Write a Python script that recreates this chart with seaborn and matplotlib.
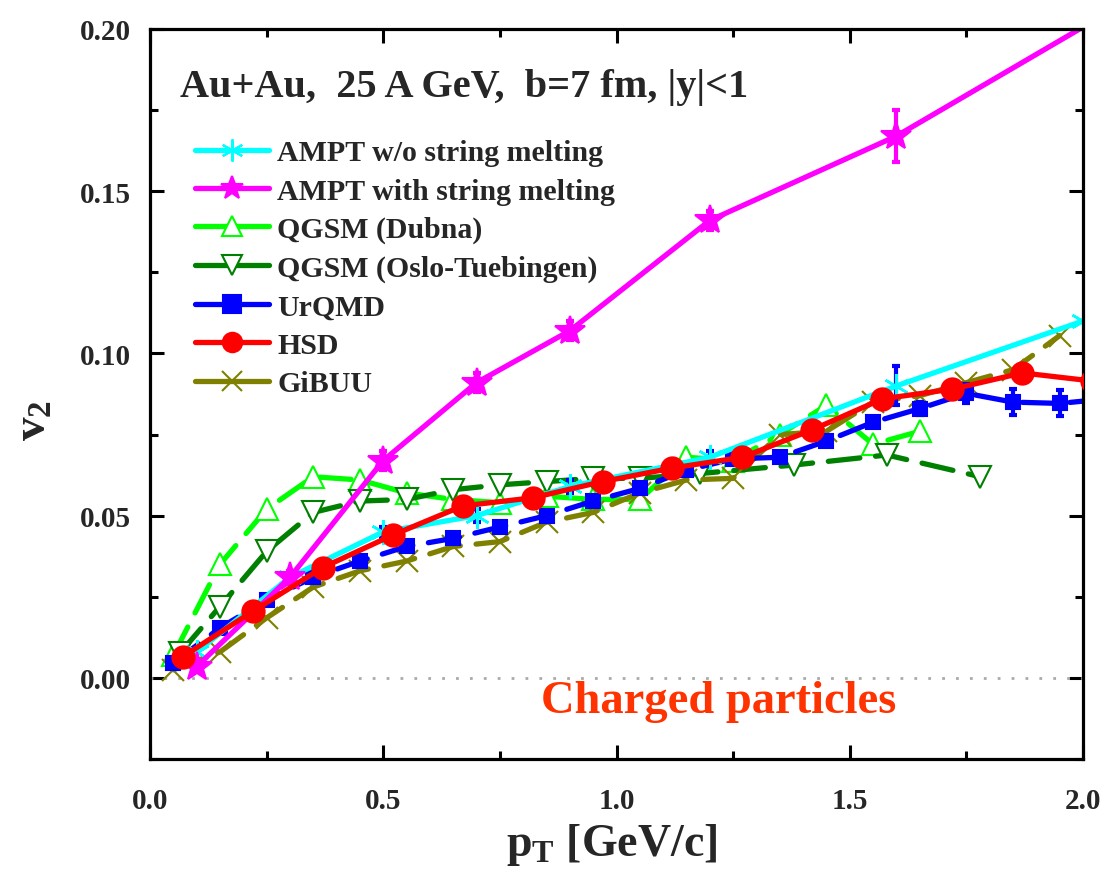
import numpy as np
import pandas as pd
import matplotlib
matplotlib.use("Agg")
import matplotlib.pyplot as plt
from matplotlib.lines import Line2D
from matplotlib.ticker import MultipleLocator, FormatStrFormatter
import seaborn as sns

# ---------------- data ----------------
ampt_wo_pt = [0.10, 0.30, 0.50, 0.70, 0.90, 1.20, 1.60, 2.00]
ampt_wo_v2 = [0.008, 0.031, 0.045, 0.050, 0.059, 0.068, 0.090, 0.110]
ampt_wo_err = [0.0, 0.0, 0.0015, 0.002, 0.002, 0.002, 0.006, 0.0]

ampt_sm_pt = [0.10, 0.30, 0.50, 0.70, 0.90, 1.20, 1.60, 2.10]
ampt_sm_v2 = [0.0035, 0.031, 0.067, 0.091, 0.107, 0.141, 0.167, 0.209]
ampt_sm_err = [0.0, 0.002, 0.003, 0.003, 0.003, 0.003, 0.008, 0.0]

dubna_pt = [0.05, 0.15, 0.25, 0.35, 0.45, 0.55, 0.65, 0.75, 0.85, 0.95,
            1.05, 1.15, 1.25, 1.35, 1.45, 1.55, 1.65]
dubna_v2 = [0.007, 0.035, 0.052, 0.062, 0.061, 0.057, 0.055, 0.054, 0.056, 0.055,
            0.055, 0.068, 0.067, 0.075, 0.084, 0.072, 0.076]

oslo_pt = [0.065, 0.15, 0.25, 0.35, 0.45, 0.55, 0.65, 0.75, 0.85, 0.95, 1.05,
           1.18, 1.38, 1.58, 1.78]
oslo_v2 = [0.0078, 0.022, 0.039, 0.051, 0.0545, 0.055, 0.058, 0.0595, 0.0605, 0.0615, 0.0615,
           0.063, 0.0656, 0.0687, 0.062]

urqmd_pt = [0.05, 0.15, 0.25, 0.35, 0.45, 0.55, 0.65, 0.75, 0.85, 0.95, 1.05,
            1.15, 1.25, 1.35, 1.45, 1.55, 1.65, 1.75, 1.85, 1.95, 2.05]
urqmd_v2 = [0.0046, 0.0154, 0.024, 0.031, 0.036, 0.0405, 0.043, 0.0465, 0.050, 0.0545, 0.0584,
            0.064, 0.0675, 0.068, 0.073, 0.0788, 0.083, 0.0877, 0.085, 0.0846, 0.086]
urqmd_err = [0.0008, 0.001, 0.001, 0.001, 0.0012, 0.0015, 0.0015, 0.0015, 0.0015, 0.0015, 0.0015,
             0.0015, 0.0015, 0.0015, 0.0015, 0.0015, 0.002, 0.003, 0.004, 0.004, 0.004]

hsd_pt = [0.07, 0.22, 0.37, 0.52, 0.67, 0.82, 0.97, 1.12, 1.27, 1.42, 1.57, 1.72, 1.87, 2.02]
hsd_v2 = [0.0065, 0.0205, 0.034, 0.044, 0.053, 0.0555, 0.0605, 0.0647, 0.068, 0.0765,
          0.086, 0.089, 0.094, 0.0915]

gibuu_pt = [0.05, 0.15, 0.25, 0.35, 0.45, 0.55, 0.65, 0.75, 0.85, 0.95,
            1.05, 1.15, 1.25, 1.35, 1.45, 1.55, 1.65, 1.75, 1.85, 1.95]
gibuu_v2 = [0.0025, 0.008, 0.0185, 0.028, 0.033, 0.036, 0.0405, 0.042, 0.048, 0.051,
            0.057, 0.061, 0.0615, 0.075, 0.076, 0.085, 0.087, 0.091, 0.095, 0.1055]

legend_labels = ["AMPT w/o string melting", "AMPT with string melting", "QGSM (Dubna)",
                 "QGSM (Oslo-Tuebingen)", "UrQMD", "HSD", "GiBUU"]
title_text = "Au+Au,  25 A GeV,  b=7 fm, |y|<1"
note_text = "Charged particles"
x_ticks = [0.0, 0.5, 1.0, 1.5, 2.0]
y_ticks = [0.00, 0.05, 0.10, 0.15, 0.20]

# ---------------- style ----------------
sns.set_theme(style="ticks")
plt.rcParams["font.family"] = ["Liberation Serif", "DejaVu Serif"]
plt.rcParams["font.weight"] = "bold"
plt.rcParams["mathtext.fontset"] = "custom"
plt.rcParams["mathtext.rm"] = "Liberation Serif:bold"
plt.rcParams["mathtext.bf"] = "Liberation Serif:bold"
plt.rcParams["mathtext.it"] = "Liberation Serif:bold"

C_CYAN, C_MAG, C_LG, C_DG = "#00FFFF", "#FF00FF", "#00FF00", "#008000"
C_BLUE, C_RED, C_OLIVE = "#0000FF", "#FF0000", "#808000"
LW = 3.8
DASH = (0, (6, 3))
ASTER = (6, 2, 0)

fig = plt.figure(figsize=(11.04, 8.79), dpi=100)
ax = fig.add_axes([150 / 1104, 119 / 879, 933 / 1104, 730 / 879])

ax.axhline(0.0, color="#AAAAAA", linestyle=(0, (1, 4)), linewidth=2, zorder=1)


def draw(x, y, color, marker, ms, ls, mfc=None, mew=1.5, z=2):
    df = pd.DataFrame({"x": x, "y": y})
    kw = dict(color=color, marker=marker, markersize=ms, linewidth=LW, linestyle=ls,
              markeredgecolor=color, markeredgewidth=mew, zorder=z, clip_on=True)
    if mfc is not None:
        kw["markerfacecolor"] = mfc
    sns.lineplot(data=df, x="x", y="y", ax=ax, sort=False, estimator=None, **kw)
    ax.lines[-1].set_dash_capstyle("round")
    ax.lines[-1].set_solid_capstyle("round")


def errs(x, y, e, color, z):
    x = np.asarray(x); y = np.asarray(y); e = np.asarray(e)
    m = e > 0
    ax.errorbar(x[m], y[m], yerr=e[m], fmt="none", ecolor=color, elinewidth=3.0,
                capsize=3, capthick=3.0, zorder=z)


draw(dubna_pt, dubna_v2, C_LG, "^", 16, DASH, mfc="white", z=2)
draw(oslo_pt, oslo_v2, C_DG, "v", 16, DASH, mfc="white", z=2.1)
draw(gibuu_pt, gibuu_v2, C_OLIVE, "x", 16, DASH, z=2.2)
errs(urqmd_pt, urqmd_v2, urqmd_err, C_BLUE, 2.3)
draw(urqmd_pt, urqmd_v2, C_BLUE, "s", 10.5, DASH, z=2.3)
errs(ampt_wo_pt, ampt_wo_v2, ampt_wo_err, C_BLUE, 2.4)
draw(ampt_wo_pt, ampt_wo_v2, C_CYAN, ASTER, 18, "-", mew=1.8, z=2.4)
errs(ampt_sm_pt, ampt_sm_v2, ampt_sm_err, C_MAG, 2.5)
draw(ampt_sm_pt, ampt_sm_v2, C_MAG, "*", 22, "-", z=2.5)
draw(hsd_pt, hsd_v2, C_RED, "o", 16, "-", z=2.6)

ax.set_xlim(0.0, 2.0)
ax.set_ylim(-0.025, 0.20)
ax.set_xticks(x_ticks)
ax.set_yticks(y_ticks)
ax.xaxis.set_minor_locator(MultipleLocator(0.25))
ax.yaxis.set_minor_locator(MultipleLocator(0.025))
ax.xaxis.set_major_formatter(FormatStrFormatter("%.1f"))
ax.yaxis.set_major_formatter(FormatStrFormatter("%.2f"))
ax.tick_params(which="both", direction="in", top=True, right=True, width=2.2, color="black")
ax.tick_params(which="major", length=10, labelsize=21, pad=14)
ax.tick_params(axis="x", which="major", pad=20)
ax.tick_params(which="minor", length=6)
for lab in ax.get_xticklabels() + ax.get_yticklabels():
    lab.set_fontweight("bold")
for s in ax.spines.values():
    s.set_linewidth(2.3)
    s.set_color("black")
ax.set_xlabel("")
ax.set_ylabel("")

fig.text(612 / 1104, 1 - 845 / 879, r"$\mathbf{p_T}$ [GeV/c]", fontsize=33, fontweight="bold",
         ha="center", va="center")
fig.text(35 / 1104, 1 - 420 / 879, r"$\mathbf{v_2}$", fontsize=34, fontweight="bold",
         ha="center", va="center", rotation=90)

ax.text(0.032, 0.908, title_text, transform=ax.transAxes, fontsize=29, fontweight="bold",
        ha="left", va="baseline")
ax.text(0.609, 0.064, note_text, transform=ax.transAxes, fontsize=33.5, fontweight="bold",
        color="#FF3300", ha="center", va="baseline")

specs = [(C_CYAN, ASTER, 16, None), (C_MAG, "*", 17, None), (C_LG, "^", 15, "white"),
         (C_DG, "v", 15, "white"), (C_BLUE, "s", 13, None), (C_RED, "o", 14, None),
         (C_OLIVE, "x", 15, None)]
handles = []
for (c, m, ms, mfc) in specs:
    h = Line2D([], [], color=c, marker=m, markersize=ms, linewidth=LW, markeredgecolor=c,
               markeredgewidth=1.5, markerfacecolor=(mfc if mfc else c))
    handles.append(h)
leg = ax.legend(handles, legend_labels, loc="upper left", bbox_to_anchor=(0.048, 0.849),
                frameon=False, fontsize=21.5, handlelength=2.5, handletextpad=0.27,
                labelspacing=0.38, borderpad=0, borderaxespad=0)
for t in leg.get_texts():
    t.set_fontweight("bold")

fig.savefig("out.png", dpi=100)
